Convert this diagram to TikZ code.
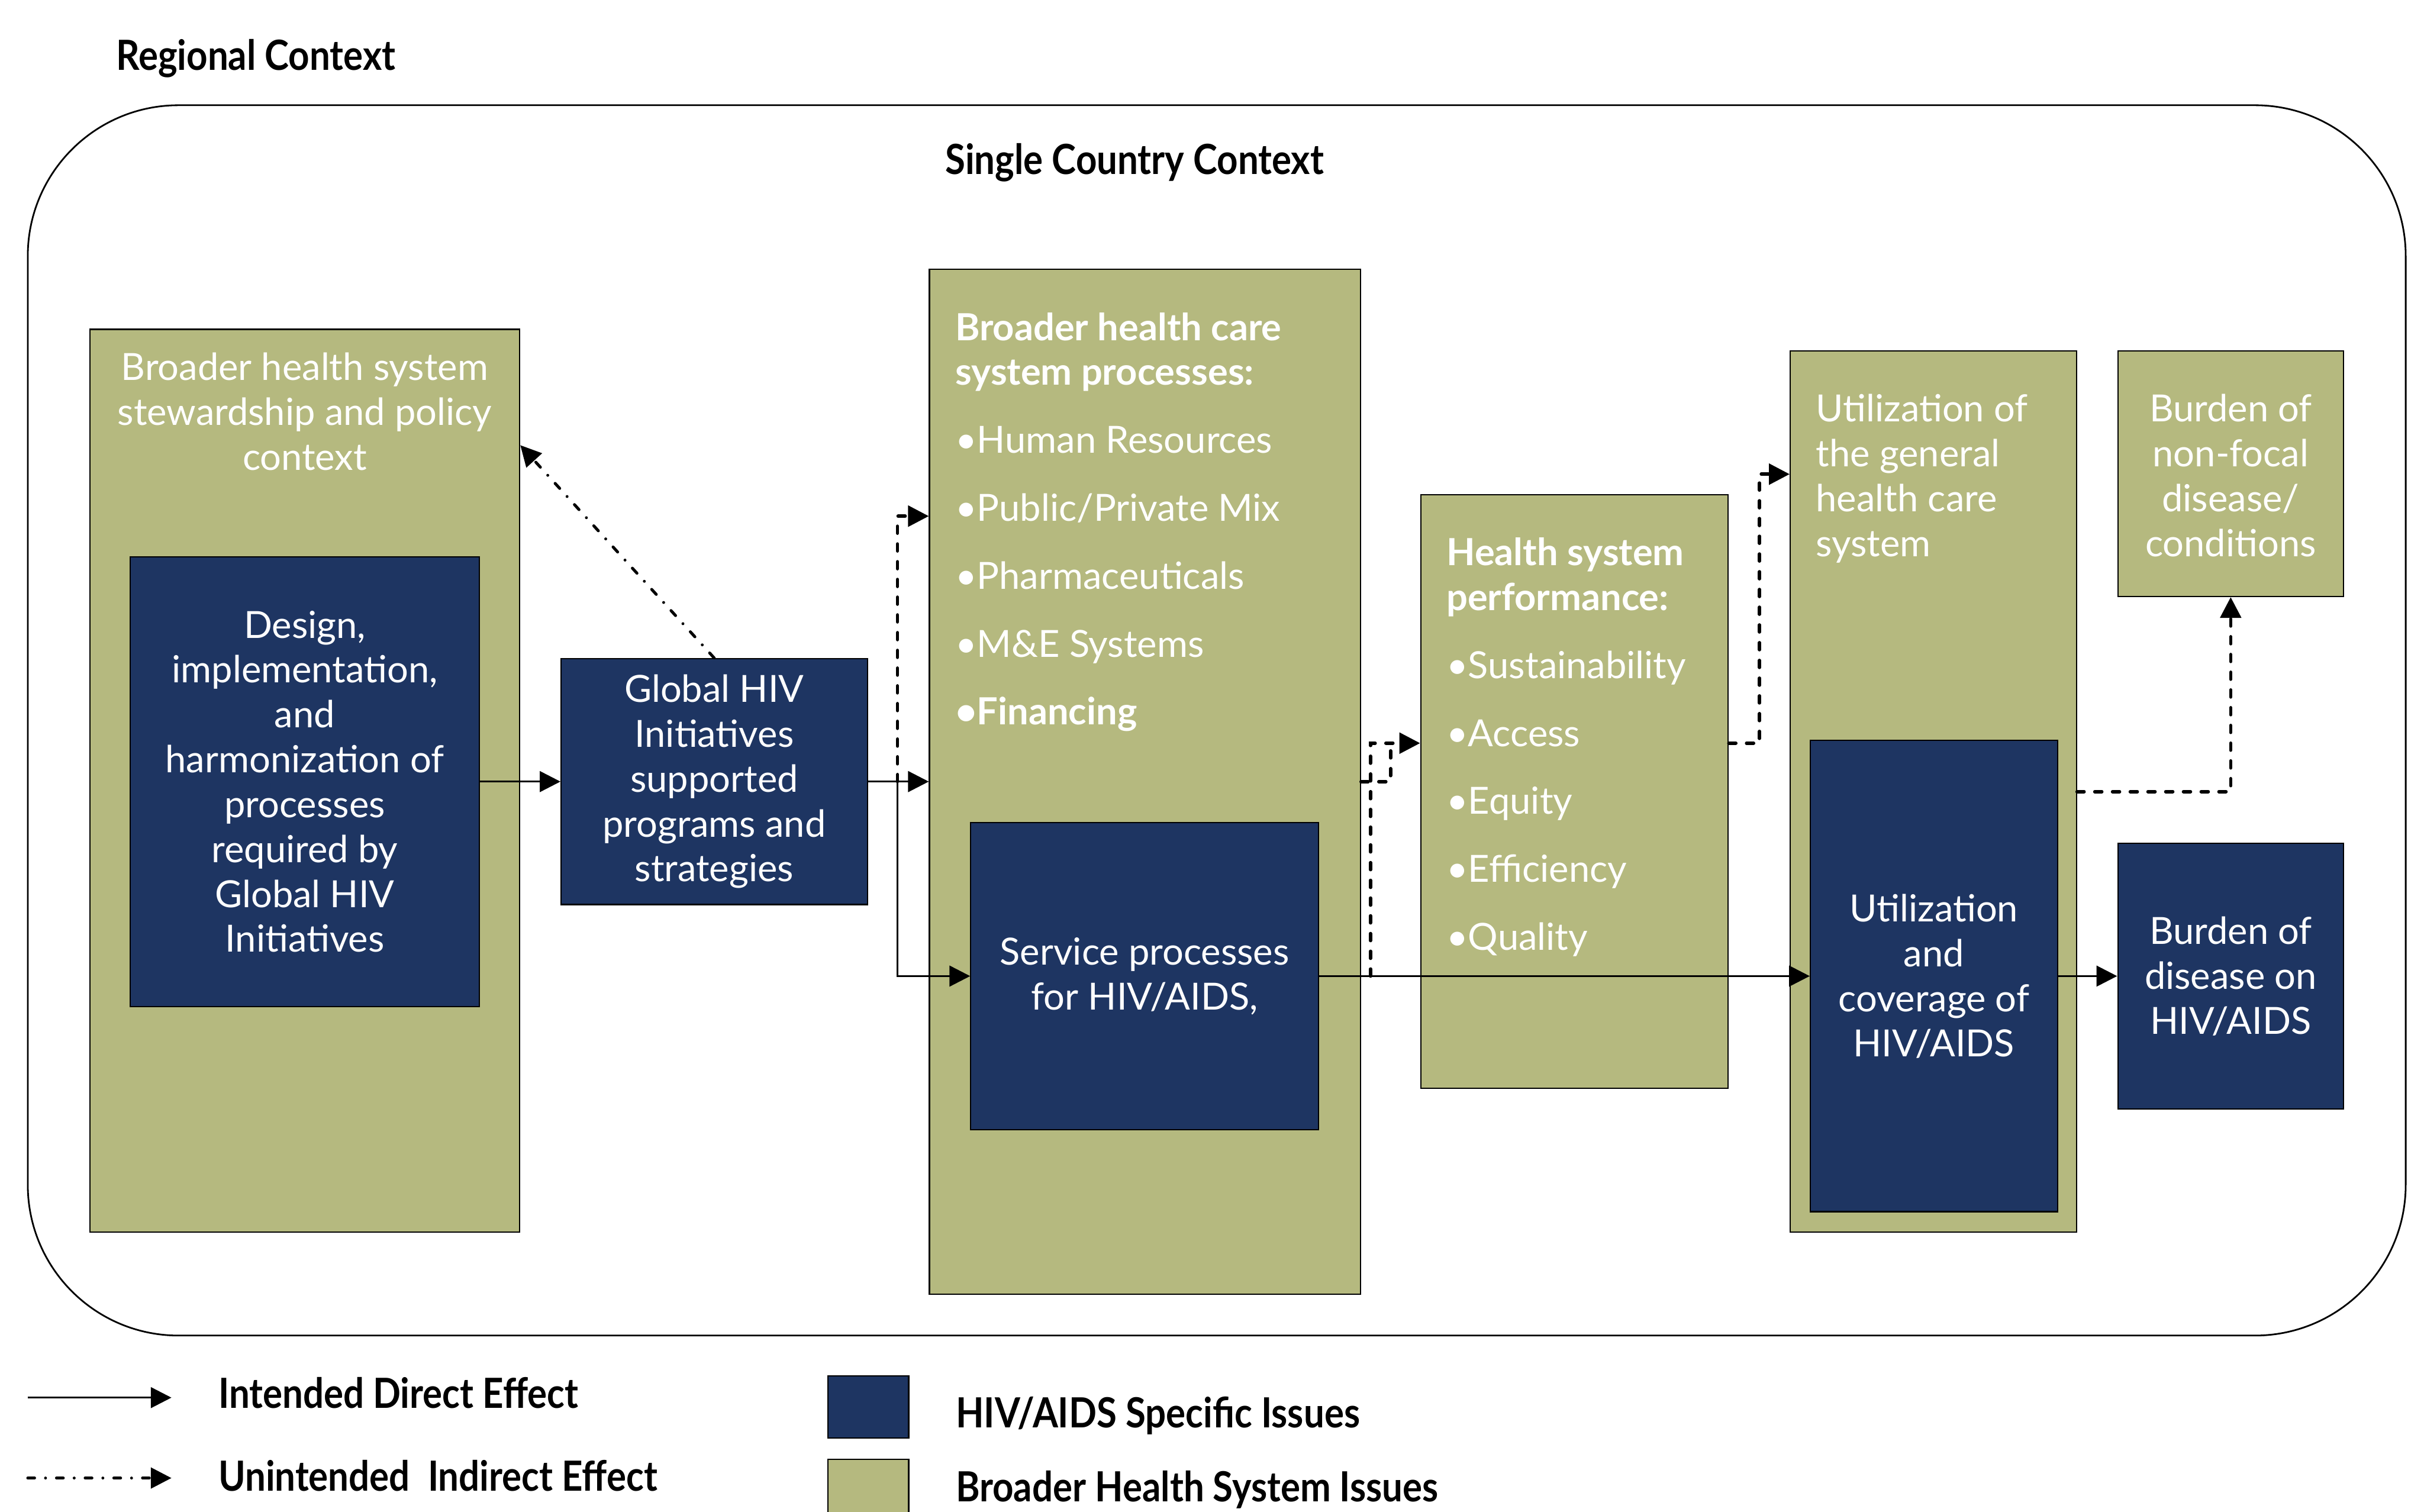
\documentclass[tikz,border=0pt]{standalone}
\usepackage{fontspec}
\setmainfont{Lato}
\newfontfamily\condfont[FakeStretch=0.88]{Lato}
\usetikzlibrary{arrows.meta,positioning}
\definecolor{hivnavy}{RGB}{30,53,98}
\definecolor{sysolive}{RGB}{181,185,127}
\newcommand{\boxfont}{\fontsize{18}{21.6}\selectfont}
\newcommand{\keyfont}{\condfont\bfseries\fontsize{20}{24}\selectfont}
\tikzset{
            sysbox/.style={draw, line width=0.6pt, fill=sysolive},
            hivbox/.style={draw, line width=0.6pt, fill=hivnavy, text=white, align=center, font=\boxfont},
            boxtext/.style={text=white, font=\boxfont, inner sep=0pt},
            keytext/.style={font=\keyfont, anchor=west, inner sep=0pt}
        }

\begin{document}
\begin{tikzpicture}[
                    x=1cm, y=-1cm,
                    >={Triangle[length=3.5mm,width=3.5mm]},
                    direct/.style={->, line width=1pt},
                    indirect/.style={->, line width=1.6pt, line cap=round, dash pattern=on 1.2mm off 1.8mm},
                    unintended/.style={->, line width=1.4pt, line cap=round, dash pattern=on 1.15mm off 1.85mm on 0mm off 1.85mm}
                    ]
                \useasboundingbox (0,0) rectangle (41,25.57);

                \node[draw, line width=0.8pt, rounded corners=2.55cm, minimum width=40.22cm, minimum height=20.81cm] (country) at (20.58,12.185) {};
                \node[keytext] (regional) at (1.96,0.99) {Regional Context};
                \node[keytext, anchor=center] (single) at (19.19,2.75) {Single Country Context};

                \node[sysbox, minimum width=7.27cm, minimum height=15.27cm] (stew) at (5.155,13.205) {};
                \node[boxtext, align=center, below=4.0mm of stew.north] (stewlbl) {Broader health system\\stewardship and policy\\context};
                \node[hivbox, minimum width=5.91cm, minimum height=7.61cm] (design) at (5.155,13.22) {Design,\\implementation,\\and\\harmonization of\\processes\\required by\\Global HIV\\Initiatives};

                \node[hivbox, minimum width=5.18cm, minimum height=4.16cm] (ghi) at (12.08,13.22) {Global HIV\\Initiatives\\supported\\programs and\\strategies};

                \node[sysbox, minimum width=7.29cm, minimum height=17.34cm] (proc) at (19.365,13.22) {};
                \node[boxtext, align=left, below right=7.4mm and 4.4mm of proc.north west] (proclbl) {\textbf{Broader health care}\\\textbf{system processes:}\\[3.9mm]•Human Resources\\[3.9mm]•Public/Private Mix\\[3.9mm]•Pharmaceuticals\\[3.9mm]•M\&E Systems\\[3.9mm]\textbf{•Financing}};
                \node[hivbox, minimum width=5.88cm, minimum height=5.20cm] (serv) at (19.36,16.51) {Service processes\\for HIV/AIDS,};

                \node[sysbox, minimum width=5.20cm, minimum height=10.04cm] (perf) at (26.63,13.39) {};
                \node[boxtext, align=left, below right=7.3mm and 4.4mm of perf.north west] (perflbl) {\textbf{Health system}\\\textbf{performance:}\\[3.9mm]•Sustainability\\[3.9mm]•Access\\[3.9mm]•Equity\\[3.9mm]•Efficiency\\[3.9mm]•Quality};

                \node[sysbox, minimum width=4.84cm, minimum height=14.90cm] (util) at (32.70,13.39) {};
                \node[boxtext, align=left, below right=7.3mm and 4.4mm of util.north west] (utillbl) {Utilization of\\the general\\health care\\system};
                \node[hivbox, minimum width=4.18cm, minimum height=7.97cm] (utilhiv) at (32.71,16.51) {Utilization\\and\\coverage of\\HIV/AIDS};

                \node[sysbox, minimum width=3.82cm, minimum height=4.15cm] (nonfocal) at (37.73,8.015) {};
                \node[boxtext, align=center, below=7.3mm of nonfocal.north] (nonfocallbl) {Burden of\\non-focal\\disease/\\conditions};
                \node[hivbox, minimum width=3.82cm, minimum height=4.50cm] (burden) at (37.73,16.51) {Burden of\\disease on\\HIV/AIDS};

                \coordinate (split) at (15.18,13.22);
                \coordinate (tap) at (23.18,16.51);
                \coordinate (perfin) at ([yshift=0.82cm]perf.west);

                \draw[direct] (design) -- (ghi);
                \draw[direct] (ghi) -- (proc);
                \draw[direct] (split) |- (serv);
                \draw[indirect] (split) |- ([yshift=4.49cm]proc.west);
                \draw[unintended] (ghi.north) -- ([yshift=5.675cm]stew.east);
                \draw[direct] (serv) -- (utilhiv);
                \draw[direct] (utilhiv) -- (burden);
                \draw[indirect] (tap) |- (perfin);
                \draw[indirect, -] (proc.east) -| ([xshift=5mm]proc.east |- perfin);
                \draw[indirect] ([yshift=0.82cm]perf.east) -- ++(0.52,0) |- ([yshift=5.37cm]util.west);
                \draw[indirect] (util.east) -| (nonfocal);

                \coordinate (keyd1) at (0.47,23.64);
                \coordinate (keyd2) at (2.90,23.64);
                \coordinate (keyu1) at (0.47,25.00);
                \coordinate (keyu2) at (2.90,25.00);
                \draw[direct] (keyd1) -- (keyd2);
                \draw[unintended] (keyu1) -- (keyu2);
                \node[keytext] (keydirect) at (3.69,23.56) {Intended Direct Effect};
                \node[keytext] (keyindirect) at (3.69,24.96) {Unintended\ \ Indirect Effect};
                \node[hivbox, minimum width=1.37cm, minimum height=1.05cm] (keyhiv) at (14.685,23.80) {};
                \node[sysbox, minimum width=1.37cm, minimum height=1.05cm] (keysys) at (14.685,25.205) {};
                \node[keytext] (keyhivlbl) at (16.16,23.95) {HIV/AIDS Specific Issues};
                \node[keytext] (keysyslbl) at (16.16,25.2) {Broader Health System Issues};
            \end{tikzpicture}
\end{document}
